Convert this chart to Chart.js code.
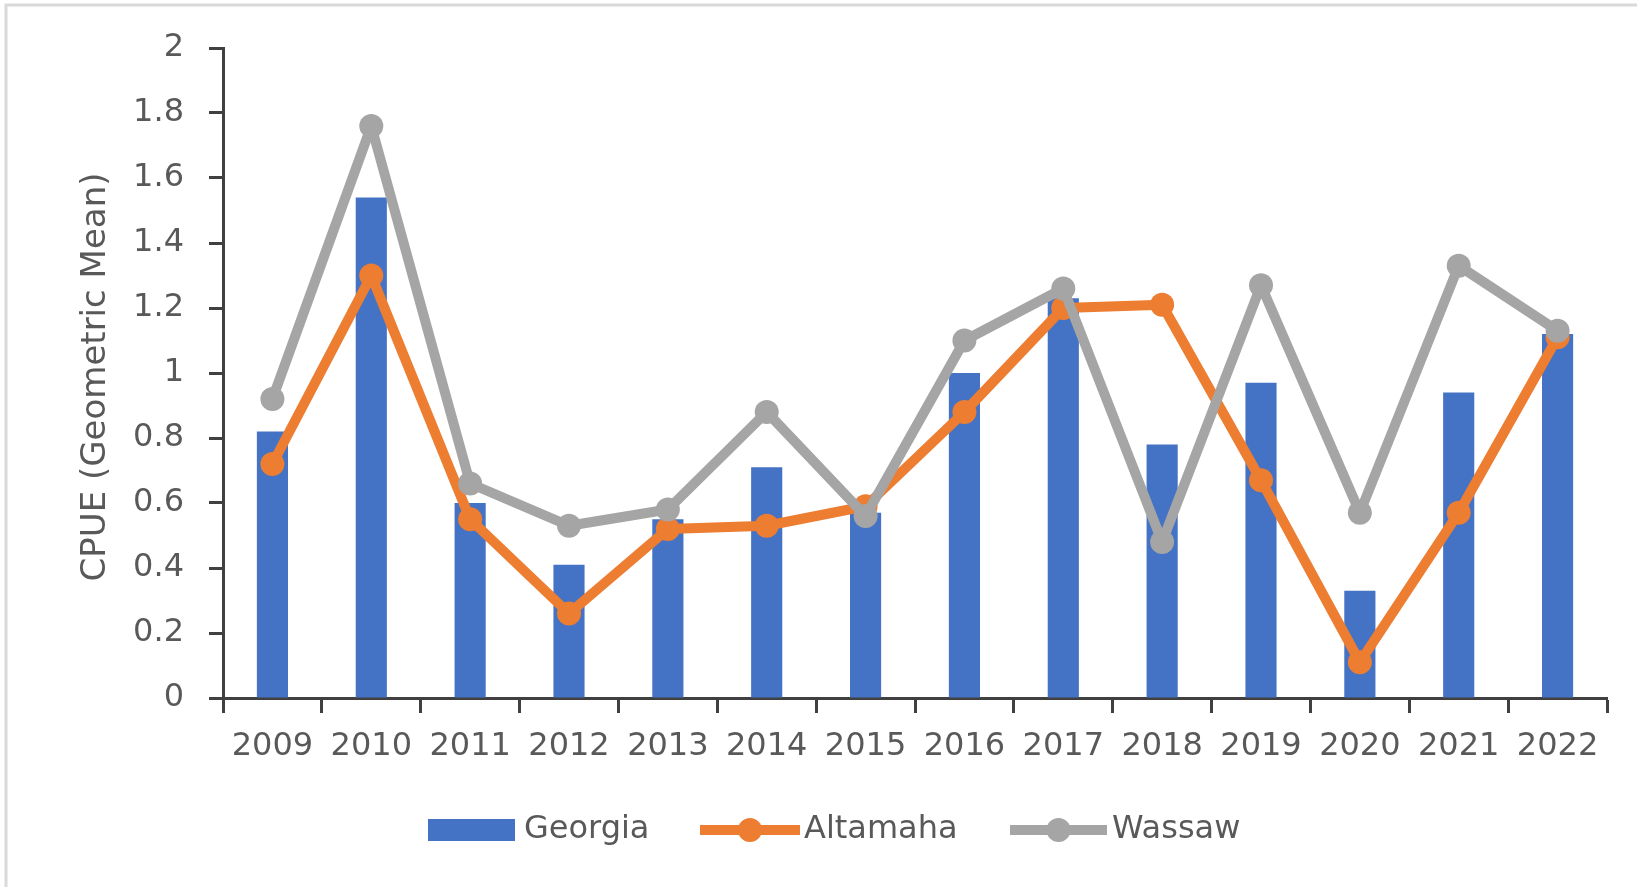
<!DOCTYPE html>
<html>
<head>
<meta charset="utf-8">
<title>CPUE by year</title>
<script src="https://cdn.jsdelivr.net/npm/chart.js@4.4.1/dist/chart.umd.min.js"></script>
<style>
    html, body { margin: 0; padding: 0; background: #ffffff; }
    #wrap { width: 1637px; height: 887px; position: relative; }
</style>
</head>
<body>
<div id="wrap"><canvas id="cpueChart" width="1637" height="887"></canvas></div>
<script>
// Catch per unit effort, geometric mean
const years = ['2009', '2010', '2011', '2012', '2013', '2014', '2015',
               '2016', '2017', '2018', '2019', '2020', '2021', '2022'];
const georgia  = [0.82, 1.54, 0.60, 0.41, 0.55, 0.71, 0.57, 1.00, 1.23, 0.78, 0.97, 0.33, 0.94, 1.12];
const altamaha = [0.72, 1.30, 0.55, 0.26, 0.52, 0.53, 0.59, 0.88, 1.20, 1.21, 0.67, 0.11, 0.57, 1.11];
const wassaw   = [0.92, 1.76, 0.66, 0.53, 0.58, 0.88, 0.56, 1.10, 1.26, 0.48, 1.27, 0.57, 1.33, 1.13];
const yTicks   = [0, 0.2, 0.4, 0.6, 0.8, 1, 1.2, 1.4, 1.6, 1.8, 2];
const yTitle   = 'CPUE (Geometric Mean)';

const BLUE = '#4472C4';
const ORANGE = '#ED7D31';
const GRAY = '#A5A5A5';
const AXIS = '#404040';
const TEXT = '#595959';
const FONT = '"DejaVu Sans", sans-serif';

// Frame, rotated axis title and the legend row underneath
const decorations = {
    id: 'decorations',
    beforeDraw(chart) {
        const ctx = chart.ctx;
        ctx.save();
        ctx.fillStyle = '#ffffff';
        ctx.fillRect(0, 0, chart.width, chart.height);
        ctx.strokeStyle = '#D9D9D9';
        ctx.lineWidth = 3;
        ctx.beginPath();
        ctx.moveTo(6, chart.height);
        ctx.lineTo(6, 5);
        ctx.lineTo(chart.width, 5);
        ctx.stroke();
        ctx.restore();
    },
    afterDraw(chart) {
        const ctx = chart.ctx;
        ctx.save();
        ctx.fillStyle = TEXT;
        ctx.font = '34px ' + FONT;
        ctx.textAlign = 'center';
        ctx.textBaseline = 'middle';
        ctx.translate(96, 377);
        ctx.rotate(-Math.PI / 2);
        ctx.fillText(yTitle, 0, 0);
        ctx.restore();

        const ly = 830;
        const sets = chart.data.datasets;
        ctx.save();
        ctx.font = '32px ' + FONT;
        ctx.textBaseline = 'middle';
        ctx.textAlign = 'left';

        // bar entry
        ctx.fillStyle = sets[0].backgroundColor;
        ctx.fillRect(428, ly - 11, 87, 22);
        ctx.fillStyle = TEXT;
        ctx.fillText(sets[0].label, 524, ly);

        // line entries
        const lineItems = [[sets[1], 700, 800, 804], [sets[2], 1010, 1107, 1112]];
        lineItems.forEach(([ds, x0, x1, tx]) => {
            ctx.strokeStyle = ds.borderColor;
            ctx.lineWidth = ds.borderWidth;
            ctx.beginPath();
            ctx.moveTo(x0, ly);
            ctx.lineTo(x1, ly);
            ctx.stroke();
            ctx.fillStyle = ds.borderColor;
            ctx.beginPath();
            ctx.arc((x0 + x1) / 2, ly, ds.pointRadius, 0, Math.PI * 2);
            ctx.fill();
            ctx.fillStyle = TEXT;
            ctx.fillText(ds.label, tx, ly);
        });
        ctx.restore();
    }
};

const ctx = document.getElementById('cpueChart').getContext('2d');
new Chart(ctx, {
    type: 'bar',
    data: {
        labels: years,
        datasets: [
            {
                type: 'bar',
                label: 'Georgia',
                data: georgia,
                backgroundColor: BLUE,
                borderWidth: 0,
                categoryPercentage: 0.315,
                barPercentage: 1,
                order: 3
            },
            {
                type: 'line',
                label: 'Altamaha',
                data: altamaha,
                borderColor: ORANGE,
                backgroundColor: ORANGE,
                borderWidth: 10,
                borderJoinStyle: 'round',
                pointRadius: 12,
                pointBorderWidth: 0,
                pointBackgroundColor: ORANGE,
                tension: 0,
                order: 2
            },
            {
                type: 'line',
                label: 'Wassaw',
                data: wassaw,
                borderColor: GRAY,
                backgroundColor: GRAY,
                borderWidth: 10,
                borderJoinStyle: 'round',
                pointRadius: 12,
                pointBorderWidth: 0,
                pointBackgroundColor: GRAY,
                tension: 0,
                order: 1
            }
        ]
    },
    options: {
        responsive: false,
        animation: false,
        devicePixelRatio: 1,
        layout: {
            padding: { left: 0, top: 48, right: 30, bottom: 0 }
        },
        plugins: {
            legend: { display: false },
            tooltip: { enabled: false }
        },
        scales: {
            x: {
                offset: true,
                grid: {
                    offset: true,
                    drawOnChartArea: false,
                    drawTicks: true,
                    tickLength: 15,
                    tickWidth: 3,
                    tickColor: AXIS
                },
                border: { display: true, color: AXIS, width: 3 },
                ticks: {
                    color: TEXT,
                    font: { family: FONT, size: 32 },
                    padding: 14,
                    maxRotation: 0,
                    autoSkip: false
                },
                afterFit(scale) { scale.height = 887 - 698; }
            },
            y: {
                min: 0,
                max: 2,
                afterBuildTicks(scale) {
                    scale.ticks = yTicks.map(v => ({ value: v }));
                },
                grid: {
                    drawOnChartArea: false,
                    drawTicks: true,
                    tickLength: 14,
                    tickWidth: 3,
                    tickColor: AXIS
                },
                border: { display: true, color: AXIS, width: 3 },
                ticks: {
                    color: TEXT,
                    font: { family: FONT, size: 32 },
                    padding: 25,
                    callback: v => String(v)
                },
                afterFit(scale) { scale.width = 223; }
            }
        }
    },
    plugins: [decorations]
});
</script>
</body>
</html>
